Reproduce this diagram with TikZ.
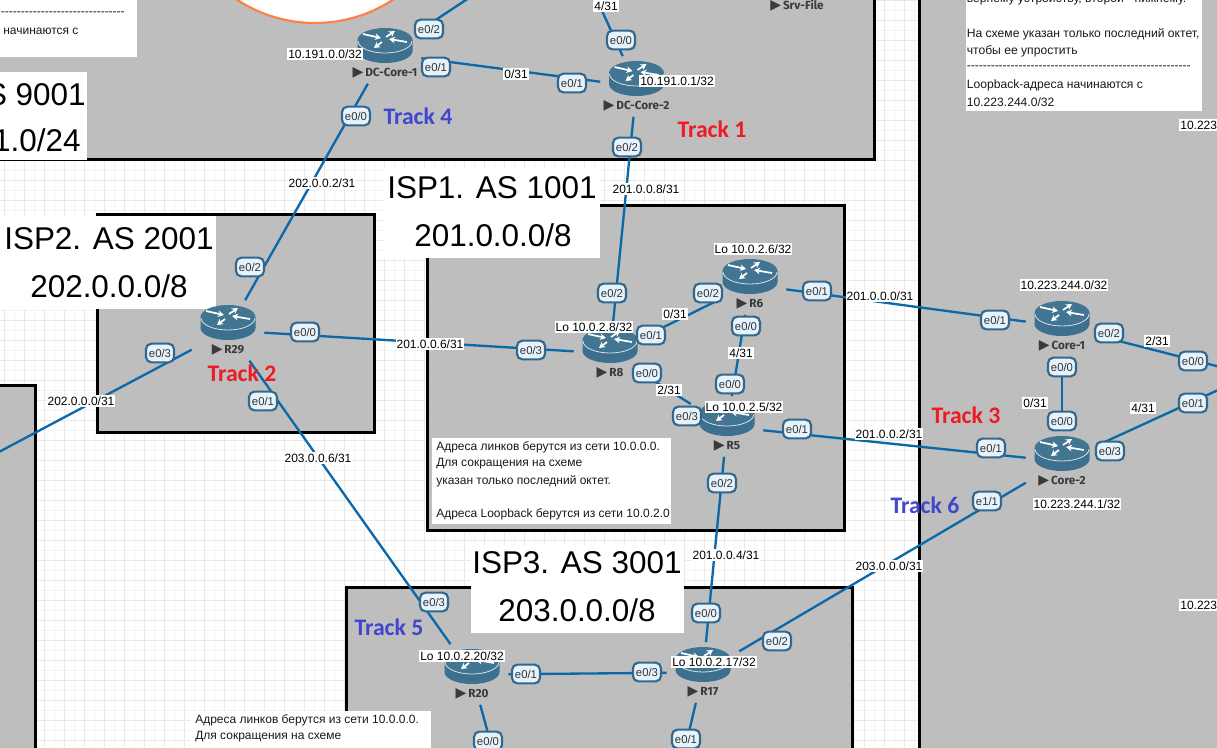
\documentclass[tikz,border=0pt]{standalone}
\usepackage{fontspec}
\setmainfont{Liberation Sans}
\newfontfamily\bigf[Kerning=Off]{Liberation Sans}
\newfontfamily\rfont{Fira Sans}
\newfontfamily\tfont{Carlito}
\newfontfamily\sym{DejaVu Sans}
\usetikzlibrary{arrows.meta}
\definecolor{gridd}{HTML}{E9E9E9}
\definecolor{gridl}{HTML}{F4F4F4}
\definecolor{framefill}{HTML}{BEBEBE}
\definecolor{linkc}{HTML}{0B68A9}
\definecolor{iconc}{HTML}{3D6F8E}
\definecolor{icont}{HTML}{427592}
\definecolor{badgeb}{HTML}{34678C}
\definecolor{badgef}{HTML}{E6F3FC}
\definecolor{tred}{HTML}{ED1C24}
\definecolor{tblue}{HTML}{3F48CC}
\definecolor{orangec}{HTML}{FF8040}
\definecolor{namec}{HTML}{3A3A3A}
\tikzset{
 framebox/.style={draw=black,line width=2.25pt,fill=framefill},
 link/.style={draw=linkc,line width=1.75pt},
 rbox/.style={rectangle,minimum width=54pt,minimum height=45pt,inner sep=0pt},
 rname/.style={font=\rfont\bfseries\fontsize{8.8}{10}\selectfont,text=namec,inner sep=0pt},
 port/.style={rectangle,rounded corners=4pt,draw=badgeb,line width=1.6pt,fill=badgef,minimum width=21pt,minimum height=14pt,inner sep=0pt,font=\fontsize{8.5}{10}\selectfont,text=black!80},
 addr/.style={fill=white,inner xsep=.8pt,inner ysep=1.5pt,font=\fontsize{9}{11}\selectfont,text=black},
 bigt/.style={font=\bigf\fontsize{23.6}{28}\selectfont,inner sep=0pt,text=black},
 trackr/.style={font=\tfont\bfseries\fontsize{17.8}{20}\selectfont,text=tred,inner sep=0pt},
 trackb/.style={font=\tfont\bfseries\fontsize{17.8}{20}\selectfont,text=tblue,inner sep=0pt},
 notet/.style={font=\fontsize{9}{11}\selectfont,inner sep=0pt,text=black!90},
 noter/.style={font=\fontsize{9.1}{11}\selectfont,inner sep=0pt,text=black!90},
}
\newcommand\tri{{\sym\fontsize{10.5}{9}\selectfont\char"25B6}\,}
\newcommand\rtr[4]{%
 \node[rbox] (#1) at ({#2},{#3+25.5}) {};
 \begin{scope}[shift={(#2,#3)}]
  \fill[iconc] (-27.5,12) -- (-27.5,23) arc[x radius=27.5,y radius=12,start angle=180,end angle=0] -- (27.5,12) -- cycle;
  \fill[icont] (0,12) ellipse[x radius=27.5,y radius=12];
  \draw[white!80!iconc,line width=.6pt] (-27,13) arc[x radius=27,y radius=12,start angle=180,end angle=0];
  \begin{scope}[white,line width=1.3pt,>={Stealth[length=4.5pt,width=5pt]}]
   \draw[->] (-22,6) -- (-4,10);
   \draw[->] (22,14) -- (4,11);
   \draw[->] (1,9) -- (10,3);
   \draw[->] (-3,14) -- (-11,20);
  \end{scope}
 \end{scope}
 \node[rname] (#1n) at ({#2},{#3+45}) {\tri #4};
}
\newcommand\hyph[1]{\foreach \i in {1,...,#1}{-{}}}
\begin{document}
\begin{tikzpicture}[x=0.75pt,y=-0.75pt]
\useasboundingbox (0,0) rectangle (1217,747);
\clip (0,0) rectangle (1217,747);
% grid
\fill[white] (0,0) rectangle (1217,747);
\foreach \gx in {14,34,...,1214} \draw[gridl,line width=.75pt] (\gx,0) -- (\gx,747);
\foreach \gy in {10,30,...,730} \draw[gridl,line width=.75pt] (0,\gy) -- (1217,\gy);
\foreach \gx in {4,24,...,1204} \draw[gridd,line width=.75pt] (\gx,0) -- (\gx,747);
\foreach \gy in {0,20,...,740} \draw[gridd,line width=.75pt] (0,\gy) -- (1217,\gy);
% frames
\path[framebox] (-20,-20) rectangle (874,159);
\path[framebox] (427,205) rectangle (844,530);
\path[framebox] (97,214) rectangle (374,432);
\path[framebox] (-20,385) rectangle (35,770);
\path[framebox] (346,587) rectangle (852,770);
\path[framebox] (919,-20) rectangle (1240,770);
\path[draw=orangec,fill=white,line width=1.6pt] (315,-119) circle (142);
% white title boxes
\fill[white] (0,72) rectangle (87,160);
\fill[white] (383,168) rectangle (600,258);
\fill[white] (0,216) rectangle (216,309);
\fill[white] (471,545) rectangle (684,633);
\node[bigt,anchor=east] (t9a) at (86,95) {S 9001};
\node[bigt,anchor=east] (t9b) at (81,140) {1.0/24};
\node[bigt,anchor=west] (t1a) at (387,188) {ISP1. AS 1001};
\node[bigt] (t1b) at (493,235) {201.0.0.0/8};
\node[bigt,anchor=west] (t2a) at (4,239) {ISP2. AS 2001};
\node[bigt] (t2b) at (109,286) {202.0.0.0/8};
\node[bigt,anchor=west] (t3a) at (472,563) {ISP3. AS 3001};
\node[bigt] (t3b) at (577,610) {203.0.0.0/8};
% notes
\fill[white] (0,0) rectangle (137,57);
\node[notet,anchor=east] (ntl1) at (125,14) {\hyph{31}};
\node[notet,anchor=west] (ntl2) at (3,31) {начинаются с};
\fill[white] (966,-5) rectangle (1202,111);
\node[noter,anchor=west] (ntr1) at (966.5,-1) {вернему устройству, второй - нижнему.};
\node[noter,anchor=west] (ntr2) at (966.5,34) {На схеме указан только последний октет,};
\node[noter,anchor=west] (ntr3) at (966.5,51) {чтобы ее упростить};
\node[notet,anchor=west] (ntr4) at (966.5,68) {\hyph{56}};
\node[noter,anchor=west] (ntr5) at (966.5,85) {Loopback-адреса начинаются с};
\node[noter,anchor=west] (ntr6) at (966.5,102) {10.223.244.0/32};
\fill[white] (432,438) rectangle (671,524);
\node[notet,anchor=west] (nm1) at (436,447) {Адреса линков берутся из сети 10.0.0.0.};
\node[notet,anchor=west] (nm2) at (436,464) {Для сокращения на схеме};
\node[notet,anchor=west] (nm3) at (436,481) {указан только последний октет.};
\node[notet,anchor=west] (nm4) at (436,514) {Адреса Loopback берутся из сети 10.0.2.0};
\fill[white] (191,711) rectangle (431,750);
\node[notet,anchor=west] (nb1) at (195,720) {Адреса линков берутся из сети 10.0.0.0.};
\node[notet,anchor=west] (nb2) at (195,737) {Для сокращения на схеме};
% routers
\rtr{dc1}{385}{28}{DC-Core-1}
\rtr{dc2}{636.5}{61}{DC-Core-2}
\rtr{r6}{750}{259}{R6}
\rtr{r8}{610}{328}{R8}
\rtr{r5}{727}{401}{R5}
\rtr{r29}{228}{305}{R29}
\rtr{c1}{1062}{301}{Core-1}
\rtr{c2}{1062}{436}{Core-2}
\rtr{r20}{472}{649}{R20}
\rtr{r17}{703}{647}{R17}
\node[rname] (srv) at (797,6) {\tri Srv-File};
% free ends
\coordinate (offdc1) at (490,-16);
\coordinate (offdc2) at (588,-20);
\coordinate (offr29) at (-20,462);
\coordinate (offc1) at (1240,372);
\coordinate (offc2) at (1240,380);
\coordinate (offr20) at (498,770);
\coordinate (offr17) at (680,770);
% links
\draw[link] (dc1) -- (offdc1);
\draw[link] (dc2) -- (offdc2);
\draw[link] (dc1) -- (dc2);
\draw[link] (dc1) -- (r29);
\draw[link] (dc2) -- (r8);
\draw[link] (r29) -- (r8);
\draw[link] (r29) -- (offr29);
\draw[link] (r29) -- (r20);
\draw[link] (r8) -- (r6);
\draw[link] (r8) -- (r5);
\draw[link] (r6) -- (r5);
\draw[link] (r6) -- (c1);
\draw[link] (r5) -- (c2);
\draw[link] (r5) -- (r17);
\draw[link] (r20) -- (r17);
\draw[link] (r17) -- (c2);
\draw[link] (c1) -- (c2);
\draw[link] (c1) -- (offc1);
\draw[link] (c2) -- (offc2);
\draw[link] (r20) -- (offr20);
\draw[link] (r17) -- (offr17);
% ports
\node[port] (p1) at (429,29) {e0/2};
\node[port] (p2) at (436,67) {e0/1};
\node[port] (p3) at (572,83) {e0/1};
\node[port] (p4) at (356,116) {e0/0};
\node[port] (p5) at (621,40) {e0/0};
\node[port] (p6) at (627,147) {e0/2};
\node[port] (p7) at (250,267) {e0/2};
\node[port] (p8) at (160,353) {e0/3};
\node[port] (p9) at (305,332) {e0/0};
\node[port] (p10) at (263,401) {e0/1};
\node[port] (p11) at (531,350) {e0/3};
\node[port] (p12) at (612,293) {e0/2};
\node[port] (p13) at (651,335) {e0/1};
\node[port] (p14) at (708,293) {e0/2};
\node[port] (p15) at (817,291) {e0/1};
\node[port] (p16) at (746,326) {e0/0};
\node[port] (p17) at (730,384) {e0/0};
\node[port] (p18) at (647,373) {e0/0};
\node[port] (p19) at (687,416) {e0/3};
\node[port] (p20) at (797,429) {e0/1};
\node[port] (p21) at (722,483) {e0/2};
\node[port] (p22) at (706,613) {e0/0};
\node[port] (p23) at (777,641) {e0/2};
\node[port] (p24) at (987,501) {e1/1};
\node[port] (p25) at (995,320) {e0/1};
\node[port] (p26) at (1109,333) {e0/2};
\node[port] (p27) at (1193,361) {e0/0};
\node[port] (p28) at (1062,367) {e0/0};
\node[port] (p29) at (1062,421) {e0/0};
\node[port] (p30) at (991,448) {e0/1};
\node[port] (p31) at (1110,451) {e0/3};
\node[port] (p32) at (1193,403) {e0/1};
\node[port] (p33) at (434,602) {e0/3};
\node[port] (p34) at (526,674) {e0/1};
\node[port] (p35) at (647,672) {e0/3};
\node[port] (p36) at (488,741) {e0/0};
\node[port] (p37) at (686,739) {e0/1};
% address labels
\node[addr] (a1) at (325,54) {10.191.0.0/32};
\node[addr] (a2) at (677,81) {10.191.0.1/32};
\node[addr] (a3) at (606,6) {4/31};
\node[addr] (a4) at (516,74) {0/31};
\node[addr] (a5) at (646,189) {201.0.0.8/31};
\node[addr] (a6) at (322,183) {202.0.0.2/31};
\node[addr] (a7) at (430,344) {201.0.0.6/31};
\node[addr] (a8) at (81,401) {202.0.0.0/31};
\node[addr] (a9) at (318,458) {203.0.0.6/31};
\node[addr] (a10) at (675,314) {0/31};
\node[addr] (a11) at (880,296) {201.0.0.0/31};
\node[addr] (a12) at (741,353) {4/31};
\node[addr] (a13) at (669,390) {2/31};
\node[addr] (a14) at (744,407) {Lo 10.0.2.5/32};
\node[addr] (a15) at (594,327) {Lo 10.0.2.8/32};
\node[addr] (a16) at (753,249) {Lo 10.0.2.6/32};
\node[addr] (a17) at (889,434) {201.0.0.2/31};
\node[addr] (a18) at (726,555) {201.0.0.4/31};
\node[addr] (a19) at (889,566) {203.0.0.0/31};
\node[addr] (a20) at (1157,341) {2/31};
\node[addr] (a21) at (1035,403) {0/31};
\node[addr] (a22) at (1143,408) {4/31};
\node[addr] (a23) at (1064,285) {10.223.244.0/32};
\node[addr] (a24) at (1077,504) {10.223.244.1/32};
\node[addr] (a25) at (462,656) {Lo 10.0.2.20/32};
\node[addr] (a26) at (714,662) {Lo 10.0.2.17/32};
\node[addr,anchor=west] (a27) at (1179,125) {10.223};
\node[addr,anchor=west] (a28) at (1179,605) {10.223};
% tracks
\node[trackb] (tr4) at (418,116) {Track 4};
\node[trackr] (tr1) at (712,129) {Track 1};
\node[trackr] (tr2) at (242,373) {Track 2};
\node[trackr] (tr3) at (966,415) {Track 3};
\node[trackb] (tr6) at (925,505) {Track 6};
\node[trackb] (tr5) at (389,627) {Track 5};
\end{tikzpicture}
\end{document}
